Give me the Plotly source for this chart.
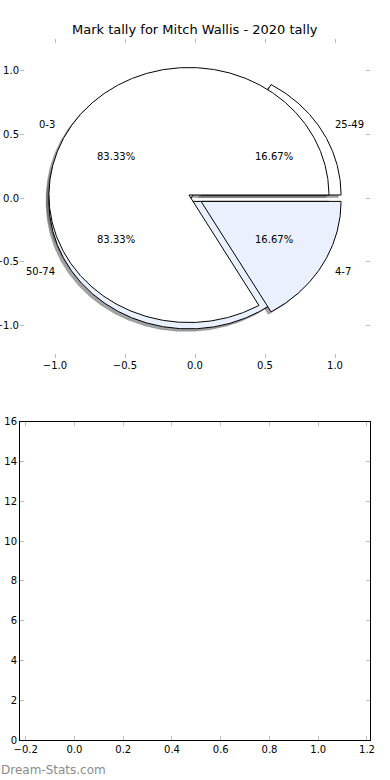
import numpy as np
import plotly.graph_objects as go

# ---------------- data ----------------
title_text = "Mark tally for Mitch Wallis - 2020 tally"
watermark = "Dream-Stats.com"

pie1_labels = ["25-49", "50-74"]
pie1_values = [1, 5]
pie1_colors = ["#ffffff", "#eaf0fd"]
pie1_counterclock = True

pie2_labels = ["4-7", "0-3"]
pie2_values = [1, 5]
pie2_colors = ["#eaf0fd", "#ffffff"]
pie2_counterclock = False

pie_explode = 0.05

pie_ticks = [-1.0, -0.5, 0.0, 0.5, 1.0]
pie_ticklabels = ["\u22121.0", "\u22120.5", "0.0", "0.5", "1.0"]

bar_x_ticks = [-0.2, 0.0, 0.2, 0.4, 0.6, 0.8, 1.0, 1.2]
bar_x_ticklabels = ["\u22120.2", "0.0", "0.2", "0.4", "0.6", "0.8", "1.0", "1.2"]
bar_y_ticks = [0, 2, 4, 6, 8, 10, 12, 14, 16]
bar_y_ticklabels = ["0", "2", "4", "6", "8", "10", "12", "14", "16"]

FONT = "DejaVu Sans"
W, H = 390, 780


def build_wedges(labels, values, colors, counterclock, explode):
    total = float(sum(values))
    start = 0.0
    out = []
    for lab, v, col in zip(labels, values, colors):
        sweep = 360.0 * v / total * (1 if counterclock else -1)
        t1, t2 = start, start + sweep
        mid = np.deg2rad((t1 + t2) / 2.0)
        cx, cy = explode * np.cos(mid), explode * np.sin(mid)
        th = np.deg2rad(np.linspace(t1, t2, int(abs(sweep)) * 2 + 2))
        xs = np.concatenate([[cx], cx + np.cos(th), [cx]])
        ys = np.concatenate([[cy], cy + np.sin(th), [cy]])
        out.append(dict(label=lab, color=col, xs=xs, ys=ys, cx=cx, cy=cy,
                        mid=mid, pct=100.0 * v / total))
        start = t2
    return out


wedges = (build_wedges(pie1_labels, pie1_values, pie1_colors, pie1_counterclock, pie_explode)
          + build_wedges(pie2_labels, pie2_values, pie2_colors, pie2_counterclock, pie_explode))

fig = go.Figure()

# shadows first (drawn beneath every wedge)
for w in wedges:
    rgb = [int(int(w["color"][i:i + 2], 16) * 0.3) for i in (1, 3, 5)]
    c = "rgba(%d,%d,%d,0.5)" % tuple(rgb)
    fig.add_trace(go.Scatter(x=w["xs"] - 0.02, y=w["ys"] - 0.02, mode="lines",
                             fill="toself", fillcolor=c,
                             line=dict(color=c, width=0.5),
                             hoverinfo="skip", showlegend=False,
                             xaxis="x", yaxis="y"))

# wedges
for w in wedges:
    fig.add_trace(go.Scatter(x=w["xs"], y=w["ys"], mode="lines",
                             fill="toself", fillcolor=w["color"],
                             line=dict(color="black", width=1),
                             hoverinfo="skip", showlegend=False,
                             xaxis="x", yaxis="y"))

annotations = []
for w in wedges:
    lx = w["cx"] + 1.1 * np.cos(w["mid"])
    ly = w["cy"] + 1.1 * np.sin(w["mid"])
    annotations.append(dict(x=lx, y=ly, xref="x", yref="y", text=w["label"],
                            showarrow=False, xanchor="left" if lx > 0 else "right",
                            yanchor="middle", borderpad=0,
                            font=dict(family=FONT, size=10, color="black")))
    px = w["cx"] + 0.6 * np.cos(w["mid"])
    py = w["cy"] + 0.6 * np.sin(w["mid"])
    annotations.append(dict(x=px, y=py, xref="x", yref="y",
                            text="%.2f%%" % w["pct"], showarrow=False,
                            xanchor="center", yanchor="middle", borderpad=0,
                            font=dict(family=FONT, size=10, color="black")))

annotations.append(dict(x=195 / W, y=1 - 30 / H, xref="paper", yref="paper",
                        text=title_text, showarrow=False, xanchor="center",
                        yanchor="middle",
                        font=dict(family=FONT, size=13, color="black")))
annotations.append(dict(x=0, y=1 - 770 / H, xref="paper", yref="paper",
                        text=watermark, showarrow=False, xanchor="left",
                        yanchor="middle", borderpad=0,
                        font=dict(family=FONT, size=12, color="#8c8c8c")))

# empty lower axes (invisible placeholder trace so axes exist)
fig.add_trace(go.Scatter(x=[None], y=[None], mode="markers", showlegend=False,
                         hoverinfo="skip", xaxis="x2", yaxis="y2"))

x_dom = [20 / W, 370 / W]
tick_common = dict(ticks="inside", ticklen=4, tickcolor="#bdbdbd", tickwidth=1,
                   mirror="ticks", showgrid=False, zeroline=False, automargin=False,
                   tickfont=dict(family=FONT, size=10, color="black"))

fig.update_layout(
    width=W, height=H, autosize=False,
    margin=dict(l=0, r=0, t=0, b=0, pad=0),
    paper_bgcolor="white", plot_bgcolor="white",
    showlegend=False, hovermode=False,
    xaxis=dict(domain=x_dom, anchor="y", range=[-1.25, 1.25],
               tickmode="array", tickvals=pie_ticks, ticktext=pie_ticklabels,
               showline=False, **tick_common),
    yaxis=dict(domain=[1 - 357.6 / H, 1 - 38.8 / H], anchor="x", range=[-1.25, 1.25],
               tickmode="array", tickvals=pie_ticks, ticktext=pie_ticklabels,
               showline=False, **tick_common),
    xaxis2=dict(domain=x_dom, anchor="y2", range=[-0.2235, 1.2124],
                tickmode="array", tickvals=bar_x_ticks, ticktext=bar_x_ticklabels,
                showline=True, linecolor="black", linewidth=1, **tick_common),
    yaxis2=dict(domain=[1 - 740 / H, 1 - 421.7 / H], anchor="x2", range=[0, 16],
                tickmode="array", tickvals=bar_y_ticks, ticktext=bar_y_ticklabels,
                showline=True, linecolor="black", linewidth=1, **tick_common),
    annotations=annotations,
)

fig.write_html("out.html", config={"displayModeBar": False},
               post_script="document.body.style.margin='0px';")
